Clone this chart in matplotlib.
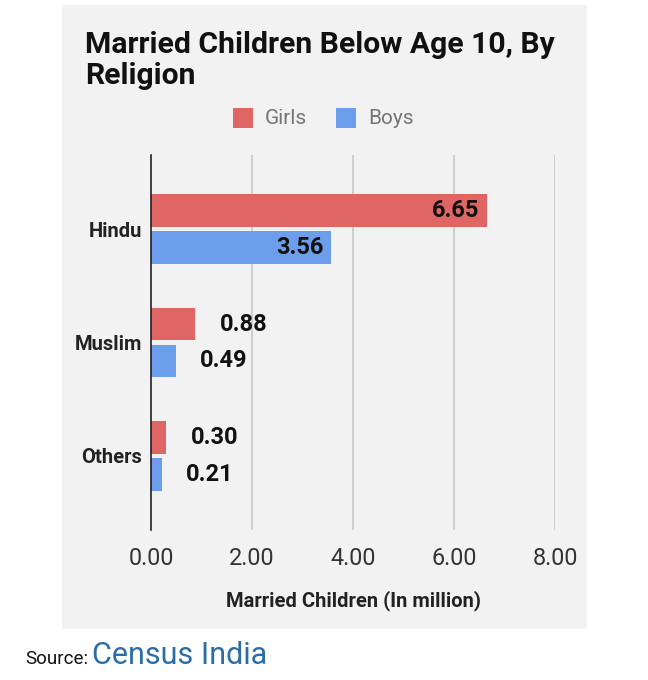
import matplotlib
matplotlib.use("Agg")
import matplotlib.pyplot as plt
from matplotlib.patches import Rectangle
import numpy as np

categories = ["Hindu", "Muslim", "Others"]
girls = [6.65, 0.88, 0.30]
boys = [3.56, 0.49, 0.21]
xticks = [0, 2, 4, 6, 8]

plt.rcParams['font.family'] = ['Roboto', 'DejaVu Sans']

W, H = 648, 680
fig = plt.figure(figsize=(W / 100, H / 100), dpi=100)
fig.patch.set_facecolor("white")

def fx(px):
    return px / W

def fy(py):
    return 1 - py / H

# gray panel
fig.patches.append(Rectangle((fx(62), fy(629)), fx(587) - fx(62), fy(5) - fy(629),
                             transform=fig.transFigure, facecolor="#f2f2f2",
                             edgecolor="none", zorder=-5))

ax = fig.add_axes([fx(151), fy(530), fx(555) - fx(151), fy(155) - fy(530)])
ax.set_facecolor("none")
ax.set_zorder(2)

red = "#e06666"
blue = "#6d9eeb"
y = np.arange(len(categories))
bh = 0.29
off = 0.163
ax.barh(y - off, girls, height=bh, color=red, zorder=3)
ax.barh(y + off, boys, height=bh, color=blue, zorder=3)

ax.set_xlim(0, 8)
ax.set_ylim(2.655, -0.655)
ax.set_xticks(xticks)
ax.set_xticklabels([f"{v:.2f}" for v in xticks], fontsize=16.8, color="#333333")
ax.set_yticks(y)
ax.set_yticklabels(categories, fontsize=14.5, fontweight="bold", color="#222222")
ax.tick_params(axis="both", length=0)
ax.tick_params(axis="x", pad=12)
ax.tick_params(axis="y", pad=6.5)
for s in ["top", "right", "bottom"]:
    ax.spines[s].set_visible(False)
ax.spines["left"].set_color("#222222")
ax.spines["left"].set_linewidth(1.2)
ax.spines["left"].set_zorder(4)
for t in xticks[1:]:
    ax.axvline(t, color="#c8c8c8", linewidth=1.2, zorder=1)

def label(vals, ys):
    for v, yy in zip(vals, ys):
        if v > 2:
            ax.text(v - 0.15, yy, f"{v:.2f}", ha="right", va="center",
                    fontsize=17, fontweight="bold", color="#111111", zorder=5)
        else:
            ax.text(v + 0.48, yy, f"{v:.2f}", ha="left", va="center",
                    fontsize=17, fontweight="bold", color="#111111", zorder=5)

label(girls, y - off)
label(boys, y + off)

ax.set_xlabel("Married Children (In million)", fontsize=14.5, fontweight="bold",
              color="#222222", labelpad=15)

# title
fig.text(fx(85), fy(45), "Married Children Below Age 10, By", fontsize=21.7,
         fontweight="bold", color="#111111", va="center", ha="left")
fig.text(fx(85), fy(76), "Religion", fontsize=21.7,
         fontweight="bold", color="#111111", va="center", ha="left")

# legend
for px, col, txt in [(233, red, "Girls"), (336, blue, "Boys")]:
    fig.patches.append(Rectangle((fx(px), fy(128)), fx(20), 20 / H,
                                 transform=fig.transFigure, facecolor=col,
                                 edgecolor="none", zorder=2))
    fig.text(fx(px + 32), fy(118), txt, fontsize=15, color="#757575",
             va="center", ha="left")

# source
fig.text(fx(25), fy(659), "Source:", fontsize=13.5, color="#111111", va="center", ha="left")
fig.text(fx(92), fy(656), "Census India", fontsize=22, color="#2b6ea6", va="center", ha="left")

fig.savefig("out.png", dpi=100)
